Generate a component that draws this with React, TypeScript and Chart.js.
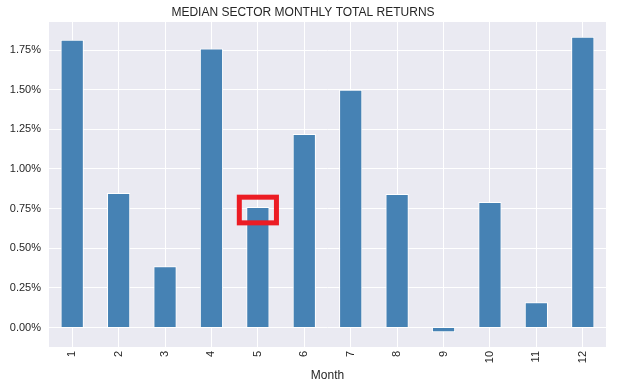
import React, { useEffect, useRef } from "react";
import { Chart, registerables } from "chart.js";

Chart.register(...registerables);

const months = ["1", "2", "3", "4", "5", "6", "7", "8", "9", "10", "11", "12"];
const medianReturns = [1.815, 0.848, 0.386, 1.76, 0.76, 1.22, 1.5, 0.842, -0.03, 0.792, 0.159, 1.834];
const yTicks = [0, 0.25, 0.5, 0.75, 1.0, 1.25, 1.5, 1.75];
const highlightIndex = 4;
const highlightRange = [0.66, 0.822];

const FONT = "'Liberation Sans', Arial, sans-serif";
const TEXT = "#262626";

const bgPlugin = {
  id: "bgArea",
  beforeDraw(chart: any) {
    const { ctx, chartArea } = chart;
    ctx.save();
    ctx.fillStyle = "#EAEAF2";
    ctx.fillRect(chartArea.left, chartArea.top, chartArea.right - chartArea.left, chartArea.bottom - chartArea.top);
    ctx.restore();
  },
};

const highlightPlugin = {
  id: "highlightBox",
  afterDatasetsDraw(chart: any) {
    const { ctx } = chart;
    const xs = chart.scales.x;
    const ys = chart.scales.y;
    const cx = xs.getPixelForValue(highlightIndex);
    const half = (xs.width / months.length) * 0.4;
    const top = ys.getPixelForValue(highlightRange[1]);
    const bottom = ys.getPixelForValue(highlightRange[0]);
    ctx.save();
    ctx.strokeStyle = "#EC1C24";
    ctx.lineWidth = 5;
    ctx.strokeRect(cx - half, top, half * 2, bottom - top);
    ctx.restore();
  },
};

export default function App() {
  const ref = useRef<HTMLCanvasElement>(null);
  useEffect(() => {
    if (!ref.current) return;
    const chart = new Chart(ref.current, {
      type: "bar",
      data: {
        labels: months,
        datasets: [
          {
            data: medianReturns,
            backgroundColor: "#4682B4",
            borderColor: "#FFFFFF",
            borderWidth: 1,
            barPercentage: 0.5,
            categoryPercentage: 1,
          },
        ],
      },
      plugins: [bgPlugin, highlightPlugin],
      options: {
        animation: false,
        responsive: false,
        devicePixelRatio: 1,
        layout: { padding: { left: 0, right: 13, top: 0, bottom: 0 } },
        plugins: {
          legend: { display: false },
          tooltip: { enabled: false },
          title: {
            display: true,
            text: "MEDIAN SECTOR MONTHLY TOTAL RETURNS",
            color: TEXT,
            font: { family: FONT, size: 12, weight: "normal", lineHeight: 1.25 },
            padding: { top: 5, bottom: 2 },
          },
        },
        scales: {
          x: {
            offset: true,
            grid: { color: "#FFFFFF", lineWidth: 1, offset: false, drawTicks: false },
            border: { display: false },
            ticks: {
              color: TEXT,
              font: { family: FONT, size: 11 },
              maxRotation: 90,
              minRotation: 90,
              padding: 4,
            },
            title: {
              display: true,
              text: "Month",
              color: TEXT,
              font: { family: FONT, size: 12 },
              padding: { top: 0, bottom: 7 },
            },
            afterFit(scale: any) {
              scale.height = 43;
            },
          },
          y: {
            min: -0.123,
            max: 1.927,
            grid: { color: "#FFFFFF", lineWidth: 1, drawTicks: false },
            border: { display: false },
            ticks: {
              color: TEXT,
              font: { family: FONT, size: 11 },
              padding: 8,
              callback: (v: any) => Number(v).toFixed(2) + "%",
            },
            afterBuildTicks(scale: any) {
              scale.ticks = yTicks.map((v) => ({ value: v }));
            },
            afterFit(scale: any) {
              scale.width = 49;
            },
          },
        },
      },
    } as any);
    return () => chart.destroy();
  }, []);
  return (
    <div style={{ position: "absolute", left: 0, top: 0, width: 619, height: 390, background: "#FFFFFF" }}>
      <canvas ref={ref} width={619} height={390} style={{ width: 619, height: 390, display: "block" }} />
    </div>
  );
}
